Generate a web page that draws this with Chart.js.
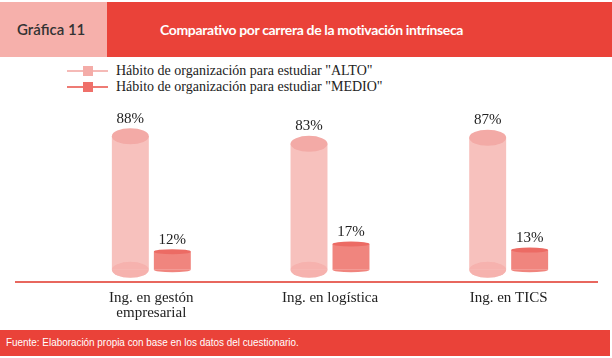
<!DOCTYPE html>
<html>
<head>
<meta charset="utf-8">
<script src="https://cdn.jsdelivr.net/npm/chart.js@4"></script>
<style>
  html, body { margin: 0; padding: 0; background: #fff; }
  #page { position: relative; width: 612px; height: 358px; overflow: hidden; }
  .hdr-left { position: absolute; left: 0; top: 2px; width: 107px; height: 55px; background: #f6b0ab; }
  .hdr-left span { position: absolute; left: 17px; top: 18px; font: 600 15px 'Lato', sans-serif; color: #333; }
  .hdr-right { position: absolute; left: 107px; top: 2px; width: 505px; height: 55px; background: #ea4239; }
  .hdr-right span { position: absolute; left: 53px; top: 19px; font: bold 14px 'Lato', sans-serif; color: #fff; letter-spacing: -0.35px; }
  .legend { position: absolute; left: 67px; top: 63px; font: 14px 'Liberation Serif', serif; color: #222; }
  .legend div { height: 16px; line-height: 16px; position: relative; padding-left: 49px; white-space: nowrap; }
  .legend i { position: absolute; left: 0; top: 7px; width: 41px; height: 2px; }
  .legend b { position: absolute; left: 16px; top: 3px; width: 10px; height: 10px; }
  #chart { position: absolute; left: 0; top: 100px; }
  .footer { position: absolute; left: 0; top: 330px; width: 610px; height: 26px; background: #ea4239; }
  .footer span { position: absolute; left: 6px; top: 6px; font: 11px 'Liberation Sans Narrow', 'Liberation Sans', sans-serif; color: #fff; transform: scaleX(0.9); transform-origin: left center; white-space: nowrap; }
</style>
</head>
<body>
<div id="page">
  <div class="hdr-left"><span>Gráfica 11</span></div>
  <div class="hdr-right"><span>Comparativo por carrera de la motivación intrínseca</span></div>
  <div class="legend" id="legend"></div>
  <canvas id="chart" width="612" height="230"></canvas>
  <div class="footer"><span>Fuente: Elaboración propia con base en los datos del cuestionario.</span></div>
</div>
<script>
// Data
const CATEGORIES = [['Ing. en gestón', 'empresarial'], 'Ing. en logística', 'Ing. en TICS'];
const SERIES_LABELS = ['Hábito de organización para estudiar "ALTO"', 'Hábito de organización para estudiar "MEDIO"'];
const ALTO = [88, 83, 87];
const MEDIO = [12, 17, 13];

// Colours per series: body, cap, legend line, legend marker
const BODY = ['rgba(246, 182, 178, 0.85)', '#f0857e'];
const CAP = ['#f3aaa6', '#ec6b64'];
const LINE = ['#f5bab7', '#ee7b74'];
const MARK = ['#f4aca8', '#ef706a'];
const CAP_RY = [8, 2.5];

// HTML legend (line + square marker)
const legendEl = document.getElementById('legend');
SERIES_LABELS.forEach((label, i) => {
  const row = document.createElement('div');
  row.innerHTML = `<i style="background:${LINE[i]}"></i><b style="background:${MARK[i]}"></b>${label}`;
  legendEl.appendChild(row);
});

// Cylinder caps + value labels on top of the bars Chart.js draws
const cylinders = {
  id: 'cylinders',
  afterDatasetsDraw(chart) {
    const ctx = chart.ctx;
    ctx.save();
    chart.data.datasets.forEach((ds, di) => {
      const meta = chart.getDatasetMeta(di);
      const ry = CAP_RY[di];
      meta.data.forEach((bar, i) => {
        const rx = bar.width / 2;
        // rounded bottom
        ctx.fillStyle = BODY[di];
        ctx.beginPath();
        ctx.ellipse(bar.x, bar.base, rx, ry, 0, 0, Math.PI);
        ctx.fill();
        // visible bottom rim through the translucent body
        if (di === 0) {
          ctx.fillStyle = 'rgba(243, 160, 156, 0.45)';
          ctx.beginPath();
          ctx.ellipse(bar.x, bar.base, rx, ry, 0, 0, Math.PI * 2);
          ctx.fill();
        }
        // top cap
        ctx.fillStyle = CAP[di];
        ctx.beginPath();
        ctx.ellipse(bar.x, bar.y, rx, ry, 0, 0, Math.PI * 2);
        ctx.fill();
        // value label
        ctx.fillStyle = '#222';
        ctx.font = '15px "Liberation Serif", serif';
        ctx.textAlign = 'center';
        ctx.textBaseline = 'bottom';
        ctx.fillText(ds.data[i] + '%', bar.x, bar.y - ry - 2);
      });
    });
    // baseline, extended to the left beyond the plot area
    const y0 = chart.chartArea.bottom;
    ctx.strokeStyle = '#e8675e';
    ctx.lineWidth = 2;
    ctx.beginPath();
    ctx.moveTo(15, y0);
    ctx.lineTo(chart.chartArea.right, y0);
    ctx.stroke();
    ctx.restore();
  },
};

new Chart(document.getElementById('chart'), {
  type: 'bar',
  data: {
    labels: CATEGORIES,
    datasets: [
      { label: SERIES_LABELS[0], data: ALTO, backgroundColor: BODY[0], borderWidth: 0 },
      { label: SERIES_LABELS[1], data: MEDIO, backgroundColor: BODY[1], borderWidth: 0 },
    ],
  },
  options: {
    responsive: false,
    devicePixelRatio: 1,
    animation: false,
    events: [],
    categoryPercentage: 0.47,
    barPercentage: 0.88,
    layout: { padding: { left: 62, right: 14, top: 18, bottom: 0 } },
    plugins: { legend: { display: false }, tooltip: { enabled: false } },
    scales: {
      x: {
        grid: { display: false, drawTicks: false },
        border: { display: false },
        ticks: {
          color: '#222',
          padding: 9,
          maxRotation: 0,
          font: { family: '"Liberation Serif", serif', size: 15, lineHeight: 1.0 },
        },
      },
      y: {
        display: false,
        min: -8,
        max: 100,
      },
    },
  },
  plugins: [cylinders],
});
</script>
</body>
</html>
